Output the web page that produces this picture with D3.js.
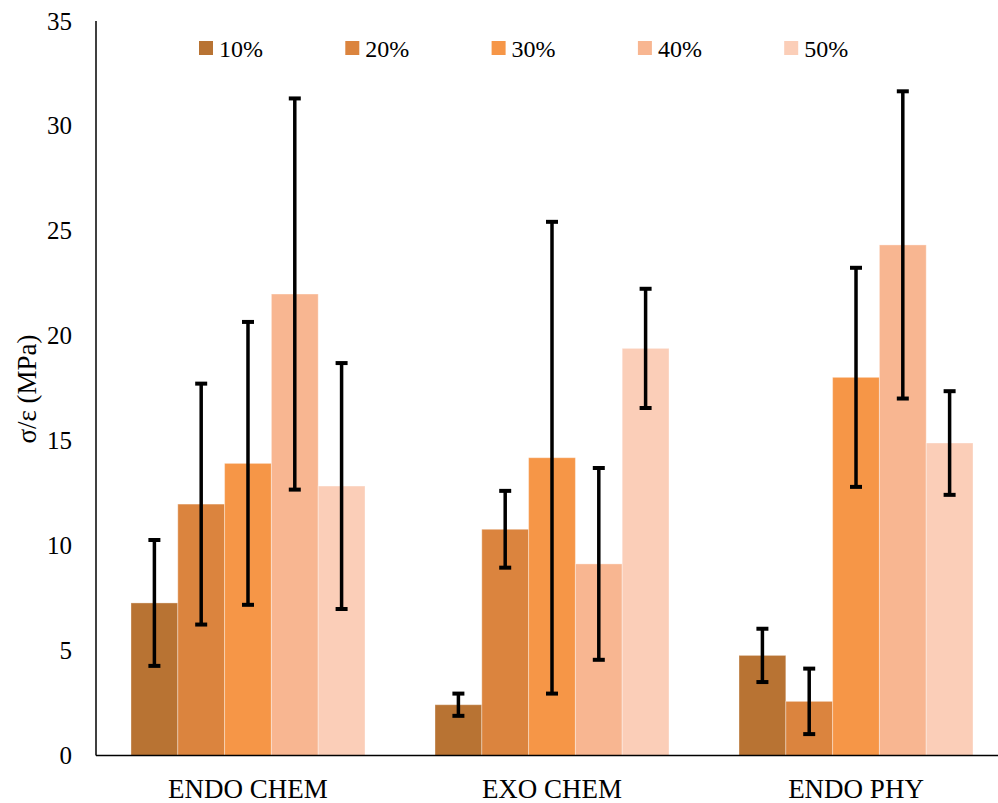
<html>
<head>
<script src="https://d3js.org/d3.v7.min.js"></script>
<style>
  body { margin: 0; background: #fff; }
  svg, svg text { font-family: "Liberation Serif", "Times New Roman", Times, serif; }
</style>
</head>
<body>
<svg id="chart" width="998" height="803"></svg>
<script>
// data
const categories = ["ENDO CHEM", "EXO CHEM", "ENDO PHY"];
const series = ["10%", "20%", "30%", "40%", "50%"];
const colors = ["#B87333", "#DB843E", "#F69647", "#F8B691", "#FBCEB8"];
const yTicks = [0, 5, 10, 15, 20, 25, 30, 35];

// values[category][series]
const values = [
  [7.27, 11.98, 13.92, 21.99, 12.84],
  [2.42, 10.78, 14.19, 9.13, 19.40],
  [4.77, 2.58, 18.02, 24.33, 14.89]
];
const errors = [
  [3.00, 5.74, 6.74, 9.32, 5.86],
  [0.53, 1.83, 11.24, 4.57, 2.84],
  [1.27, 1.56, 5.22, 7.32, 2.47]
];

const svg = d3.select("#chart");
const plotLeft = 96, plotRight = 1008, plotTop = 21, plotBottom = 755.5;
const serif = "'Liberation Serif', 'Times New Roman', serif";

var x0 = d3.scaleBand().domain(categories).range([plotLeft, plotRight])
  .paddingInner(0.2303).paddingOuter(0.1151);
var x1 = d3.scaleBand().domain(series).range([0, x0.bandwidth()]);
var y = d3.scaleLinear().domain([0, 35]).range([plotBottom, plotTop]);
var color = d3.scaleOrdinal().domain(series).range(colors);

// bars
var groups = svg.append("g").selectAll("g")
  .data(categories)
  .enter().append("g")
  .attr("transform", d => "translate(" + x0(d) + ",0)");

groups.selectAll("rect")
  .data((c, i) => series.map((s, j) => ({s: s, v: values[i][j], e: errors[i][j]})))
  .enter().append("rect")
  .attr("x", d => x1(d.s))
  .attr("y", d => y(d.v))
  .attr("width", x1.bandwidth())
  .attr("height", d => plotBottom - y(d.v))
  .attr("fill", d => color(d.s))
  .attr("stroke", "#fff")
  .attr("stroke-opacity", 0.35)
  .attr("stroke-width", 1);

// error bars
var eb = groups.selectAll("g.err")
  .data((c, i) => series.map((s, j) => ({s: s, v: values[i][j], e: errors[i][j]})))
  .enter().append("g").attr("class", "err");
eb.append("line")
  .attr("x1", d => x1(d.s) + x1.bandwidth() / 2)
  .attr("x2", d => x1(d.s) + x1.bandwidth() / 2)
  .attr("y1", d => y(d.v + d.e))
  .attr("y2", d => y(d.v - d.e))
  .attr("stroke", "#000").attr("stroke-width", 3.5);
eb.selectAll("line.cap")
  .data(d => [{s: d.s, val: d.v + d.e}, {s: d.s, val: d.v - d.e}])
  .enter().append("line").attr("class", "cap")
  .attr("x1", d => x1(d.s) + x1.bandwidth() / 2 - 6)
  .attr("x2", d => x1(d.s) + x1.bandwidth() / 2 + 6)
  .attr("y1", d => y(d.val))
  .attr("y2", d => y(d.val))
  .attr("stroke", "#000").attr("stroke-width", 4);

// axes
svg.append("line").attr("x1", plotLeft).attr("x2", plotLeft).attr("y1", plotTop).attr("y2", plotBottom)
  .attr("stroke", "#000").attr("stroke-width", 1.5);
svg.append("line").attr("x1", plotLeft).attr("x2", 998).attr("y1", plotBottom).attr("y2", plotBottom)
  .attr("stroke", "#000").attr("stroke-width", 1.5);

svg.append("g").selectAll("text")
  .data(yTicks)
  .enter().append("text")
  .attr("x", 72)
  .attr("y", d => y(d))
  .attr("dy", "0.34em")
  .attr("text-anchor", "end")
  .style("font-family", serif)
  .style("font-size", "25px")
  .text(d => d);

svg.append("g").selectAll("text")
  .data(categories)
  .enter().append("text")
  .attr("x", d => x0(d) + x0.bandwidth() / 2)
  .attr("y", 798)
  .attr("text-anchor", "middle")
  .style("font-family", serif)
  .style("font-size", "27px")
  .text(d => d);

svg.append("text")
  .attr("transform", "translate(36,389) rotate(-90)")
  .attr("text-anchor", "middle")
  .style("font-family", serif)
  .style("font-size", "27px")
  .text("σ/ε (MPa)");

// legend
var leg = svg.append("g").selectAll("g")
  .data(series)
  .enter().append("g")
  .attr("transform", (d, i) => "translate(" + (199 + i * 146.3) + ",41)");
leg.append("rect").attr("width", 14).attr("height", 14).attr("fill", d => color(d));
leg.append("text").attr("x", 20).attr("y", 15.5)
  .style("font-family", serif)
  .style("font-size", "24px").text(d => d);
</script>
</body>
</html>
